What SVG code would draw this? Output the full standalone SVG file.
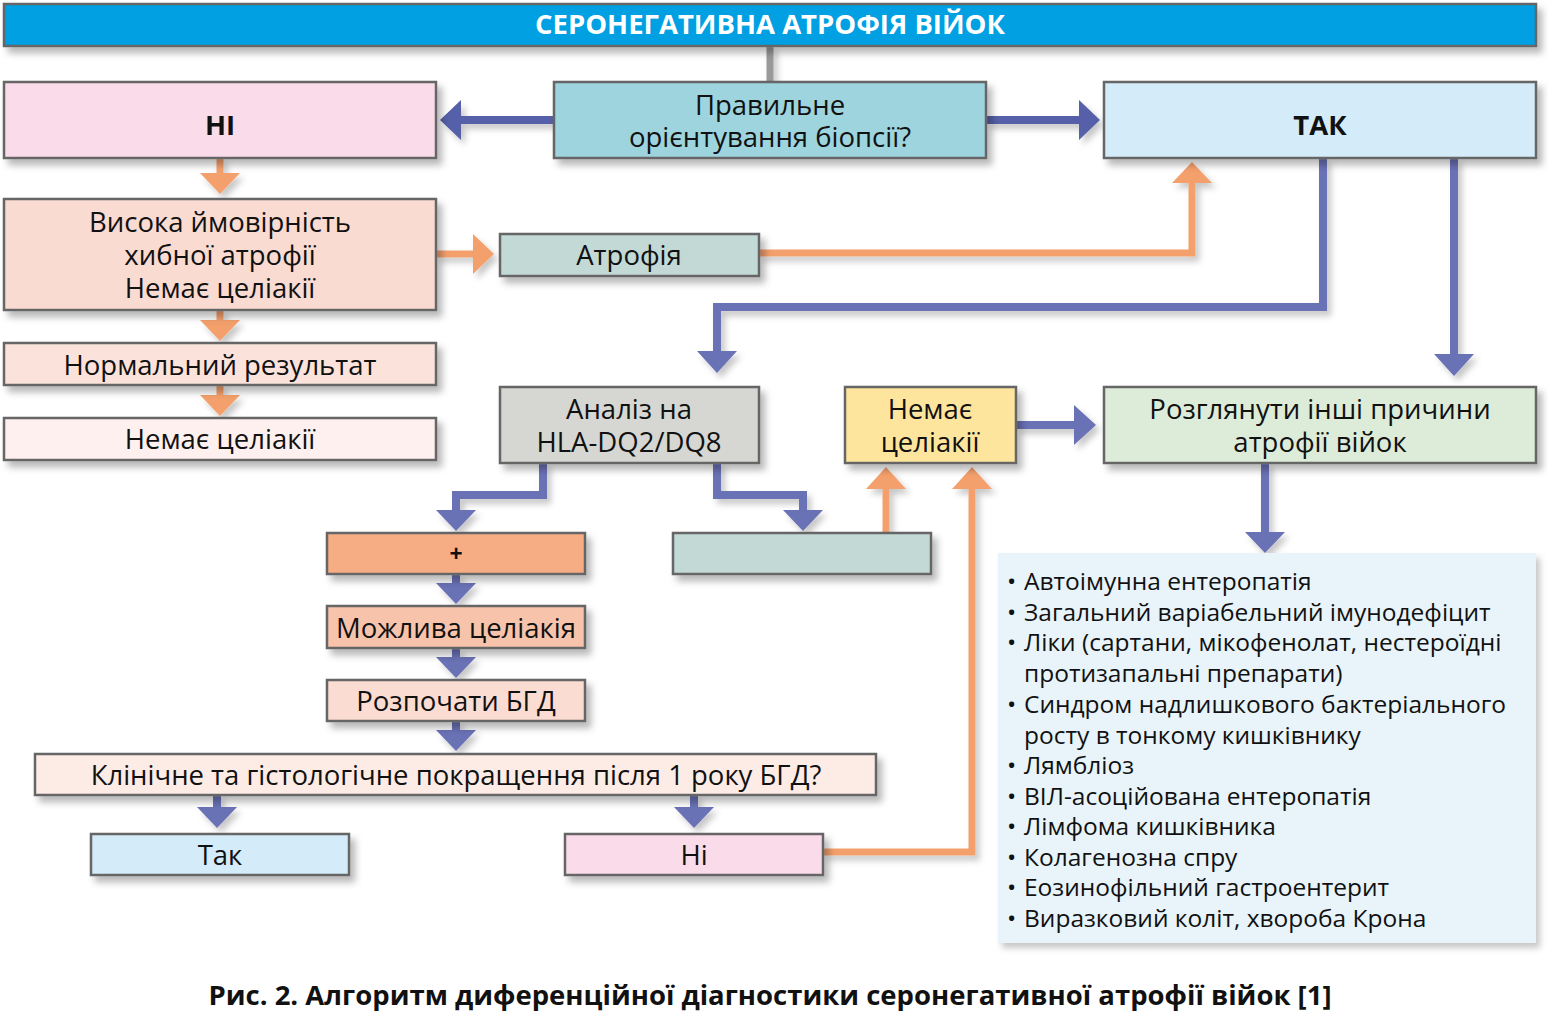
<svg xmlns="http://www.w3.org/2000/svg" width="1548" height="1012" viewBox="0 0 1548 1012">
<defs>
<filter id="sh" x="-10%" y="-30%" width="125%" height="180%">
<feDropShadow dx="5" dy="6" stdDeviation="3.5" flood-color="#000" flood-opacity="0.28"/>
</filter>
<filter id="lsh" x="-10%" y="-10%" width="130%" height="130%">
<feDropShadow dx="4" dy="5" stdDeviation="3" flood-color="#000" flood-opacity="0.22"/>
</filter>
</defs>
<style>
text{font-family:"Open Sans","Noto Sans","DejaVu Sans",sans-serif;fill:#111;}
.b{stroke:#666;stroke-width:2.5;filter:url(#sh);}
.t{font-size:27.5px;text-anchor:middle;}
.bd{font-weight:bold;}
.li{font-size:24.5px;}
.bl{stroke:#5560a8;stroke-width:8;fill:none;}
.lb{stroke:#6b72b6;stroke-width:8;fill:none;}
.or{stroke:#f4a06c;stroke-width:7;fill:none;}
.hb{fill:#5560a8;}
.hl{fill:#6b72b6;}
.ho{fill:#f4a06c;}
</style>
<rect width="1548" height="1012" fill="#fff"/>
<g id="connectors" filter="url(#lsh)">
<line x1="770" y1="46" x2="770" y2="82" stroke="#999" stroke-width="7"/>
<line class="bl" x1="554" y1="120" x2="455" y2="120"/>
<polygon class="hb" points="440,120 461,100 461,140"/>
<line class="bl" x1="986" y1="120" x2="1082" y2="120"/>
<polygon class="hb" points="1100,120 1079,100 1079,140"/>
<line class="or" x1="220" y1="158" x2="220" y2="176"/>
<polygon class="ho" points="220,194 200,173 240,173"/>
<line class="or" x1="436" y1="254" x2="476" y2="254"/>
<polygon class="ho" points="494,254 473,234 473,274"/>
<polyline class="or" points="759,253 1192,253 1192,180"/>
<polygon class="ho" points="1192,162 1172,183 1212,183"/>
<line class="or" x1="220" y1="310" x2="220" y2="324"/>
<polygon class="ho" points="220,341 200,320 240,320"/>
<line class="or" x1="220" y1="385" x2="220" y2="399"/>
<polygon class="ho" points="220,416 200,395 240,395"/>
<polyline class="lb" points="1323,158 1323,307 717,307 717,356"/>
<polygon class="hl" points="717,373 697,351 737,351"/>
<line class="lb" x1="1454" y1="158" x2="1454" y2="358"/>
<polygon class="hl" points="1454,376 1434,354 1474,354"/>
<line class="lb" x1="1016" y1="425" x2="1078" y2="425"/>
<polygon class="hl" points="1096,425 1074,405 1074,445"/>
<line class="lb" x1="1265" y1="463" x2="1265" y2="536"/>
<polygon class="hl" points="1265,553 1245,532 1285,532"/>
<polyline class="lb" points="543,463 543,495 456,495 456,514"/>
<polygon class="hl" points="456,531 436,510 476,510"/>
<polyline class="lb" points="717,463 717,495 803,495 803,514"/>
<polygon class="hl" points="803,531 783,510 823,510"/>
<line class="or" x1="886" y1="533" x2="886" y2="485"/>
<polygon class="ho" points="886,467 866,489 906,489"/>
<polyline class="or" points="823,852 972,852 972,485"/>
<polygon class="ho" points="972,467 952,489 992,489"/>
<line class="lb" x1="456" y1="574" x2="456" y2="588"/>
<polygon class="hl" points="456,604 436,583 476,583"/>
<line class="lb" x1="456" y1="648" x2="456" y2="662"/>
<polygon class="hl" points="456,678 436,657 476,657"/>
<line class="lb" x1="456" y1="721" x2="456" y2="735"/>
<polygon class="hl" points="456,751 436,730 476,730"/>
<line class="lb" x1="217" y1="795" x2="217" y2="811"/>
<polygon class="hl" points="217,828 197,807 237,807"/>
<line class="lb" x1="694" y1="795" x2="694" y2="811"/>
<polygon class="hl" points="694,828 674,807 714,807"/>
</g>
<g id="title">
<rect class="b" x="4" y="4" width="1532" height="42" fill="#00a0e3"/>
<text x="770" y="34" class="t bd" style="fill:#fff">СЕРОНЕГАТИВНА АТРОФІЯ ВІЙОК</text>
</g>
<g id="ni-top">
<rect class="b" x="4" y="82" width="432" height="76" fill="#fadbea"/>
<text x="220" y="135" class="t bd">НІ</text>
</g>
<g id="question">
<rect class="b" x="554" y="82" width="432" height="76" fill="#9dd4de"/>
<text x="770" y="115" class="t">Правильне</text>
<text x="770" y="147" class="t">орієнтування біопсії?</text>
</g>
<g id="tak-top">
<rect class="b" x="1104" y="82" width="432" height="76" fill="#d4ebf9"/>
<text x="1320" y="135" class="t bd">ТАК</text>
</g>
<g id="high">
<rect class="b" x="4" y="199" width="432" height="111" fill="#f9dbd2"/>
<text x="220" y="232" class="t">Висока ймовірність</text>
<text x="220" y="265" class="t">хибної атрофії</text>
<text x="220" y="298" class="t">Немає целіакії</text>
</g>
<g id="atrophy">
<rect class="b" x="500" y="234" width="259" height="42" fill="#c2d9d6"/>
<text x="629" y="265" class="t">Атрофія</text>
</g>
<g id="normal">
<rect class="b" x="4" y="343" width="432" height="42" fill="#fbe3dc"/>
<text x="220" y="375" class="t">Нормальний результат</text>
</g>
<g id="no-cel-left">
<rect class="b" x="4" y="418" width="432" height="42" fill="#fdf0ee"/>
<text x="220" y="449" class="t">Немає целіакії</text>
</g>
<g id="hla">
<rect class="b" x="500" y="387" width="259" height="76" fill="#d6d7d2"/>
<text x="629" y="419" class="t">Аналіз на</text>
<text x="629" y="452" class="t">HLA-DQ2/DQ8</text>
</g>
<g id="no-cel-yellow">
<rect class="b" x="845" y="387" width="171" height="76" fill="#fde59e"/>
<text x="930" y="419" class="t">Немає</text>
<text x="930" y="452" class="t">целіакії</text>
</g>
<g id="consider">
<rect class="b" x="1104" y="387" width="432" height="76" fill="#dcecd9"/>
<text x="1320" y="419" class="t">Розглянути інші причини</text>
<text x="1320" y="452" class="t">атрофії війок</text>
</g>
<g id="plus">
<rect class="b" x="327" y="533" width="258" height="41" fill="#f6ad84"/>
<text x="456" y="562" class="t bd" style="font-size:23px">+</text>
</g>
<g id="minus">
<rect class="b" x="673" y="533" width="258" height="41" fill="#c2d9d6"/>
</g>
<g id="possible">
<rect class="b" x="327" y="606" width="258" height="42" fill="#f8c3ab"/>
<text x="456" y="638" class="t">Можлива целіакія</text>
</g>
<g id="gfd">
<rect class="b" x="327" y="680" width="258" height="41" fill="#fbdcd2"/>
<text x="456" y="711" class="t">Розпочати БГД</text>
</g>
<g id="improve">
<rect class="b" x="35" y="754" width="841" height="41" fill="#fdece6"/>
<text x="456" y="785" class="t">Клінічне та гістологічне покращення після 1 року БГД?</text>
</g>
<g id="tak-bottom">
<rect class="b" x="91" y="834" width="258" height="41" fill="#d4ebf9"/>
<text x="220" y="865" class="t">Так</text>
</g>
<g id="ni-bottom">
<rect class="b" x="565" y="834" width="258" height="41" fill="#fadbea"/>
<text x="694" y="865" class="t">Ні</text>
</g>
<g id="causes">
<rect x="998" y="553" width="538" height="390" fill="#e8f4fa" filter="url(#lsh)"/>
<g class="li">
<text x="1007" y="590">•</text><text x="1024" y="590">Автоімунна ентеропатія</text>
<text x="1007" y="621">•</text><text x="1024" y="621">Загальний варіабельний імунодефіцит</text>
<text x="1007" y="651">•</text><text x="1024" y="651">Ліки (сартани, мікофенолат, нестероїдні</text>
<text x="1024" y="682">протизапальні препарати)</text>
<text x="1007" y="713">•</text><text x="1024" y="713">Синдром надлишкового бактеріального</text>
<text x="1024" y="744">росту в тонкому кишківнику</text>
<text x="1007" y="774">•</text><text x="1024" y="774">Лямбліоз</text>
<text x="1007" y="805">•</text><text x="1024" y="805">ВІЛ-асоційована ентеропатія</text>
<text x="1007" y="835">•</text><text x="1024" y="835">Лімфома кишківника</text>
<text x="1007" y="866">•</text><text x="1024" y="866">Колагенозна спру</text>
<text x="1007" y="896">•</text><text x="1024" y="896">Еозинофільний гастроентерит</text>
<text x="1007" y="927">•</text><text x="1024" y="927">Виразковий коліт, хвороба Крона</text>
</g>
</g>
<g id="caption">
<text x="770" y="1005" class="bd" style="font-size:27.5px;text-anchor:middle">Рис. 2. Алгоритм диференційної діагностики серонегативної атрофії війок [1]</text>
</g>
</svg>
